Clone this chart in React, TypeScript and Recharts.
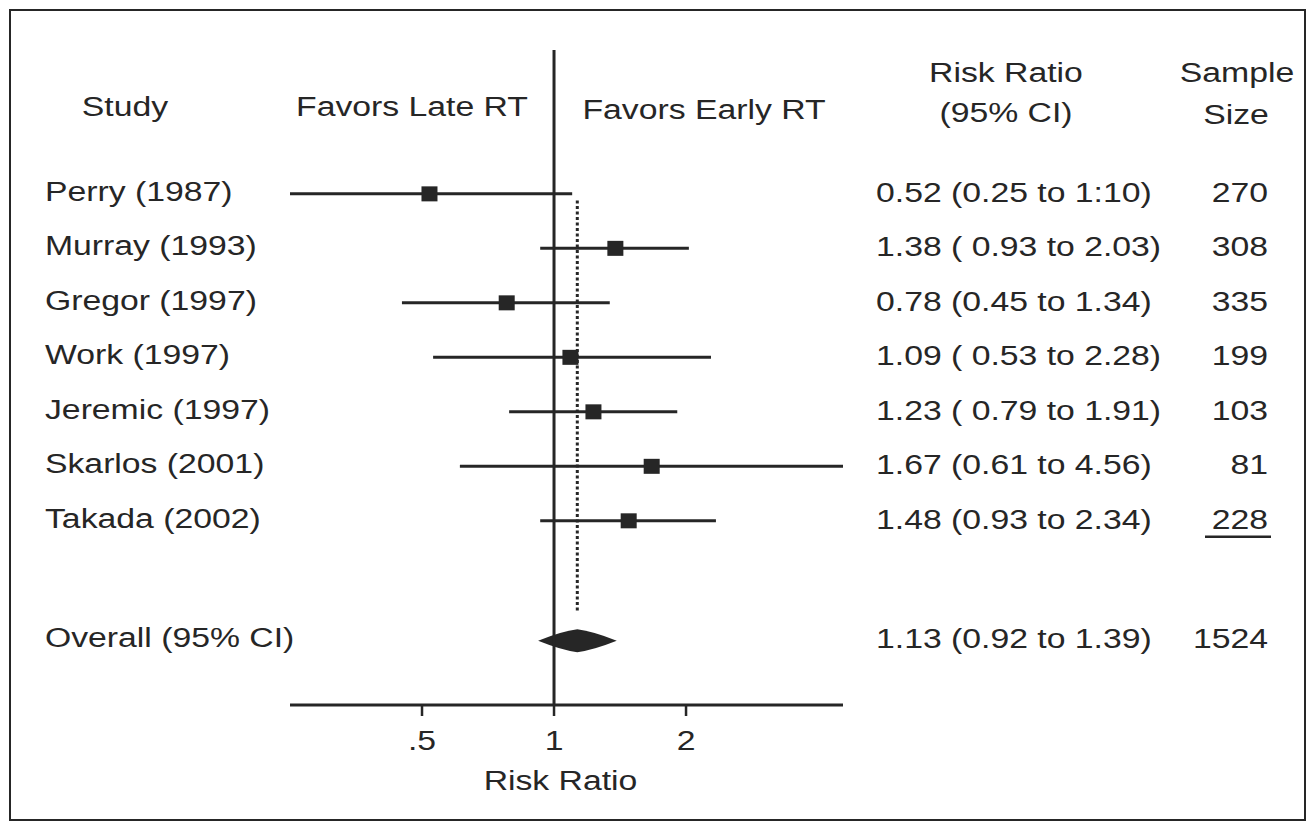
import React from "react";
import { ComposedChart, Scatter, XAxis, YAxis, ReferenceLine, ReferenceArea, Label } from "recharts";

// studies, top to bottom
const studies = [
  "Perry (1987)",
  "Murray (1993)",
  "Gregor (1997)",
  "Work (1997)",
  "Jeremic (1997)",
  "Skarlos (2001)",
  "Takada (2002)",
];
const riskRatio = [0.52, 1.38, 0.78, 1.09, 1.23, 1.67, 1.48];
const ciLow = [0.25, 0.93, 0.45, 0.53, 0.79, 0.61, 0.93];
const ciHigh = [1.1, 2.03, 1.34, 2.28, 1.91, 4.56, 2.34];
const ciLabels = [
  "0.52 (0.25 to 1:10)",
  "1.38 ( 0.93 to 2.03)",
  "0.78 (0.45 to 1.34)",
  "1.09 ( 0.53 to 2.28)",
  "1.23 ( 0.79 to 1.91)",
  "1.67 (0.61 to 4.56)",
  "1.48 (0.93 to 2.34)",
];
const sampleSizes = [270, 308, 335, 199, 103, 81, 228];
const studyRows = [0, 1, 2, 3, 4, 5, 6];

const overallLabel = "Overall (95% CI)";
const overallRR = 1.13;
const overallLow = 0.92;
const overallHigh = 1.39;
const overallCiLabel = "1.13 (0.92 to 1.39)";
const overallN = 1524;
const overallRow = 8.2;

const xTicks = [0.5, 1, 2];
const xTickLabels = [".5", "1", "2"];

const allRows = [...studyRows, overallRow];
const leftColumn = [...studies, overallLabel];
const ciColumn = [...ciLabels, overallCiLabel];
const nColumn = [...sampleSizes.map(String), String(overallN)];

const points = studies.map((s, i) => ({ name: s, rr: riskRatio[i], row: studyRows[i] }));

const INK = "#262626";
const FONT = "'Liberation Sans', Arial, Helvetica, sans-serif";
const STRETCH = 1.25; // the scanned figure is wider than it is tall
const FS = 27;
const TICK_LEN = 11;
const TICK_GAP = 23;

function Stretched({ x, y, anchor = "middle", children }: any) {
  return (
    <g transform={`translate(${x},${y}) scale(${STRETCH},1)`}>
      <text x={0} y={0} textAnchor={anchor} dominantBaseline="central" fontSize={FS} fontFamily={FONT} fill={INK}>
        {children}
      </text>
    </g>
  );
}

const rowIndex = (v: number) => allRows.indexOf(v);

const StudyTick = (p: any) => (
  <Stretched x={p.x} y={p.y - 3} anchor="start">
    {leftColumn[rowIndex(p.payload.value)]}
  </Stretched>
);

const CiTick = (p: any) => (
  <Stretched x={p.x} y={p.y - 2} anchor="start">
    {ciColumn[rowIndex(p.payload.value)]}
  </Stretched>
);

const NTick = (p: any) => {
  const i = rowIndex(p.payload.value);
  return (
    <g>
      <Stretched x={p.x} y={p.y - 2} anchor="end">
        {nColumn[i]}
      </Stretched>
      {i === studies.length - 1 && (
        <line x1={p.x - 63} x2={p.x + 3} y1={p.y + 16} y2={p.y + 16} stroke={INK} strokeWidth={2.5} />
      )}
    </g>
  );
};

// tick mark + label, the mark hangs below the axis line
const XTick = (p: any) => (
  <g>
    <line
      x1={p.x}
      x2={p.x}
      y1={p.y - TICK_GAP - TICK_LEN - 1}
      y2={p.y - TICK_GAP}
      stroke={INK}
      strokeWidth={2.5}
    />
    <Stretched x={p.x} y={p.y + 1}>
      {xTickLabels[xTicks.indexOf(p.payload.value)]}
    </Stretched>
  </g>
);

const Diamond = (p: any) => {
  const f = Math.log(overallRR / overallLow) / Math.log(overallHigh / overallLow);
  const mx = p.x + p.width * f;
  const my = p.y + p.height / 2;
  return (
    <path
      d={`M${p.x},${my} Q${mx - p.width * 0.2},${p.y + 2} ${mx},${p.y} Q${mx + p.width * 0.2},${p.y + 2} ${p.x + p.width},${my} Q${mx + p.width * 0.2},${p.y + p.height - 2} ${mx},${p.y + p.height} Q${mx - p.width * 0.2},${p.y + p.height - 2} ${p.x},${my}Z`}
      fill={INK}
    />
  );
};

const headers = [
  { text: "Study", x: 125, y: 107 },
  { text: "Favors Late RT", x: 412, y: 107 },
  { text: "Favors Early RT", x: 704, y: 110 },
  { text: "Risk Ratio", x: 1006, y: 73 },
  { text: "(95% CI)", x: 1006, y: 113 },
  { text: "Sample", x: 1237, y: 73 },
  { text: "Size", x: 1236, y: 115 },
];

export default function App() {
  const domainY: [number, number] = [-2.64, 9.38];
  return (
    <div style={{ position: "absolute", left: 0, top: 0, width: 1308, height: 824, background: "#fff", overflow: "hidden" }}>
      <div
        style={{
          position: "absolute",
          left: 9,
          top: 9,
          width: 1297,
          height: 812,
          border: `2.5px solid ${INK}`,
          boxSizing: "border-box",
        }}
      />
      <ComposedChart
        width={1308}
        height={824}
        data={points}
        margin={{ top: 50, right: 15, bottom: 0, left: 40 }}
        style={{ position: "absolute", left: 0, top: 0 }}
      >
        <XAxis
          type="number"
          dataKey="rr"
          scale="log"
          domain={[0.25, 4.56]}
          allowDataOverflow
          ticks={xTicks}
          interval={0}
          height={119}
          tickSize={TICK_LEN}
          tickMargin={TICK_GAP}
          tick={XTick}
          axisLine={{ stroke: INK, strokeWidth: 3 }}
          tickLine={false}
        >
          <Label
            content={(p: any) => (
              <Stretched x={p.viewBox.x + p.viewBox.width / 2 - 6} y={p.viewBox.y + 75}>
                Risk Ratio
              </Stretched>
            )}
          />
        </XAxis>
        <YAxis
          yAxisId="study"
          type="number"
          dataKey="row"
          domain={domainY}
          reversed
          allowDataOverflow
          ticks={allRows}
          interval={0}
          width={250}
          tickSize={0}
          tickMargin={245}
          axisLine={false}
          tickLine={false}
          tick={StudyTick}
        />
        <YAxis
          yAxisId="ci"
          orientation="right"
          type="number"
          domain={domainY}
          reversed
          allowDataOverflow
          ticks={allRows}
          interval={0}
          width={330}
          tickSize={0}
          tickMargin={33}
          axisLine={false}
          tickLine={false}
          tick={CiTick}
        />
        <YAxis
          yAxisId="n"
          orientation="right"
          type="number"
          domain={domainY}
          reversed
          allowDataOverflow
          ticks={allRows}
          interval={0}
          width={120}
          tickSize={0}
          tickMargin={95}
          axisLine={false}
          tickLine={false}
          tick={NTick}
        />
        <ReferenceLine yAxisId="study" x={1} stroke={INK} strokeWidth={3} ifOverflow="visible" />
        {studies.map((s, i) => (
          <ReferenceLine
            key={s}
            yAxisId="study"
            ifOverflow="visible"
            segment={[
              { x: ciLow[i], y: studyRows[i] },
              { x: ciHigh[i], y: studyRows[i] },
            ]}
            stroke={INK}
            strokeWidth={3}
          />
        ))}
        <ReferenceLine
          yAxisId="study"
          ifOverflow="visible"
          segment={[
            { x: overallRR, y: 0.12 },
            { x: overallRR, y: 7.67 },
          ]}
          stroke={INK}
          strokeWidth={3}
          strokeDasharray="3 2.5"
        />
        <ReferenceArea
          yAxisId="study"
          x1={overallLow}
          x2={overallHigh}
          y1={overallRow - 0.21}
          y2={overallRow + 0.21}
          ifOverflow="visible"
          shape={Diamond}
        />
        <Scatter
          yAxisId="study"
          dataKey="row"
          isAnimationActive={false}
          shape={(p: any) => <rect x={p.cx - 8} y={p.cy - 7.5} width={16} height={15} fill={INK} />}
        />
      </ComposedChart>
      {headers.map((h) => (
        <div
          key={h.text}
          style={{
            position: "absolute",
            left: h.x,
            top: h.y,
            transform: `translate(-50%, -50%) scaleX(${STRETCH})`,
            fontFamily: FONT,
            fontSize: FS,
            color: INK,
            whiteSpace: "nowrap",
            lineHeight: 1,
          }}
        >
          {h.text}
        </div>
      ))}
    </div>
  );
}
